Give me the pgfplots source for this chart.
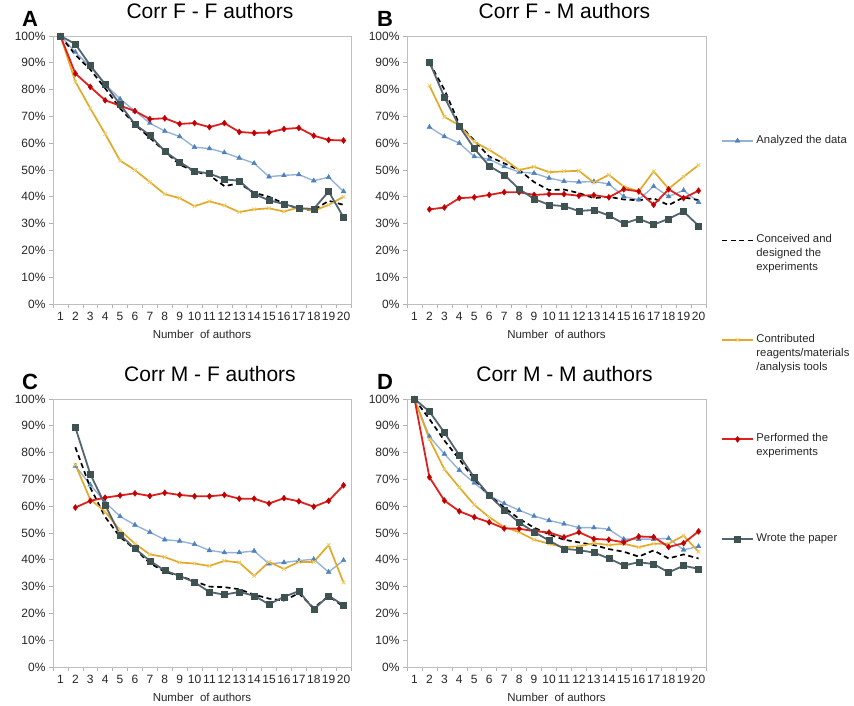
\documentclass[border=0pt]{standalone}
\usepackage{fontspec}
\setmainfont{Liberation Sans}
\usepackage{pgfplots}
\usepackage{pgfplotstable}
\pgfplotsset{compat=1.18}

\definecolor{anaLine}{RGB}{149,179,215}
\definecolor{anaMark}{RGB}{79,129,189}
\definecolor{conLine}{RGB}{226,170,40}
\definecolor{conMark}{RGB}{240,205,110}
\definecolor{perLine}{RGB}{222,32,32}
\definecolor{perMark}{RGB}{192,0,0}
\definecolor{wroLine}{RGB}{84,100,112}
\definecolor{wroMark}{RGB}{62,82,82}

% columns: x, analyzed, conceived, contributed, performed, wrote
\pgfplotstableread{
x ana conc cont perf wrote
1 100 100 100 100 100
2 94 93 83 86 97
3 88.5 87.5 73 81 89
4 82 80.5 63.5 76 82
5 76.5 73 53.5 74 74.5
6 72 67 50 72 67
7 67.5 62 45.5 69 63
8 64.5 57 41 69.3 57
9 62.5 52 39.5 67.2 53
10 58.5 49.5 36.5 67.5 49.5
11 58 48 38.3 66 48.7
12 56.5 44 36.8 67.5 46.5
13 54.5 45 34.3 64.2 46
14 52.5 41.5 35.3 63.8 41
15 47.5 40 35.7 64 38.7
16 48 37.5 34.5 65.3 37.3
17 48.3 35.5 36 65.7 35.7
18 46 35 34.8 62.8 35.5
19 47.3 38.5 37 61.2 42
20 42 37 40 61 32.3
}\tabA

\pgfplotstableread{
x ana conc cont perf wrote
2 66 90 81.5 35.3 90.3
3 62.5 80 69.8 36 77.2
4 60 67 66.7 39.5 66.3
5 55 61 60.5 39.8 58
6 54 55 57.5 40.7 51.5
7 51.3 52.5 54 41.7 48.2
8 49.2 50 50 41.7 42.9
9 48.8 45.5 51.2 40.7 39.2
10 47 42.5 49.2 41 37
11 45.8 42.7 49.5 41 36.5
12 45.5 41.4 49.7 40.4 34.7
13 45.7 39.5 45.3 40.6 35.1
14 44.8 40 48.2 39.8 33
15 40.1 39 43.8 42.8 30
16 38.9 38.7 42 42 31.8
17 43.9 39.4 49.5 37 29.6
18 40.1 36.9 43 42.8 31.8
19 42.4 39.8 47.5 39.5 34.5
20 38 38.8 51.8 42.3 29.2
}\tabB

\pgfplotstableread{
x ana conc cont perf wrote
2 75 82 75.5 59.5 89.4
3 68 67 62.5 62 72
4 61.5 56 58 63.2 60.5
5 56.2 48.5 51 64 49.3
6 53 44 46 64.8 44.2
7 50.3 38.8 42 63.8 39.6
8 47.5 35.5 41 65 36
9 47 34 39 64.2 34
10 45.8 32 38.6 63.7 31.6
11 43.5 30 37.7 63.7 28
12 42.7 29.8 39.6 64.2 27
13 42.7 29 39 62.8 28
14 43.3 27 34 62.8 26.6
15 38.5 25.5 39.2 61 23.4
16 39 24.8 36.6 63 26.2
17 39.7 27.5 39.2 61.8 28.3
18 40.2 22 39.2 59.8 21.5
19 35.4 26.5 45.5 62 26.6
20 39.8 22.5 31.5 67.8 23
}\tabC

\pgfplotstableread{
x ana conc cont perf wrote
1 100 100 100 100 100
2 86 92.5 85 70.8 95.3
3 79.5 84.5 73.8 62.1 87.5
4 73.4 77.5 67 58.1 79
5 68.7 70 60.5 55.9 70.7
6 64 64 55.9 54 64
7 61 59.5 52.2 51.7 58.6
8 58.5 55.3 50.3 51.6 53.9
9 56.3 52 47.5 50.7 50.4
10 54.7 49.5 46 50.2 47.2
11 53.4 47.5 44.7 48.4 44.1
12 52 46.5 45 50.3 43.6
13 52 45.5 46.2 47.8 42.7
14 51.4 44 45.5 47.5 40.5
15 47.7 43 46 46.5 37.9
16 47.7 41.2 44.7 48.7 39.1
17 47.7 43.5 46 48.5 38.4
18 48 40.5 46 44.8 35.3
19 43.7 42 49 46.2 37.8
20 45 40.5 43 50.6 36.6
}\tabD

\tikzset{letter/.style={font=\bfseries\fontsize{22}{24}\selectfont, anchor=base}}

\pgfplotsset{
  panel/.style={
    scale only axis, width=298pt, height=268pt,
    xmin=0.5, xmax=20.5, ymin=0, ymax=100,
    xtick={0.5,1.5,...,20.5}, xticklabels={},
    extra x ticks={1,2,...,20},
    extra x tick labels={1,2,3,4,5,6,7,8,9,10,11,12,13,14,15,16,17,18,19,20},
    extra x tick style={major tick length=0pt},
    xticklabel shift=5pt,
    ytick={0,10,...,100},
    yticklabel={\pgfmathprintnumber{\tick}\%},
    tick align=outside, tick pos=left,
    major tick length=4pt,
    axis line style={gray!50},
    tick style={gray!60, line width=0.6pt},
    tick label style={font=\fontsize{12}{14}\selectfont, text=black!85},
    xticklabel style={inner xsep=0pt},
    /pgf/number format/assume math mode=true,
    xlabel={Number\ \ of authors},
    xlabel style={font=\fontsize{11.5}{13}\selectfont, text=black!85, at={(0.5,0)}, anchor=base, yshift=-35pt},
    title style={font=\fontsize{21}{24}\selectfont, at={(0.5,1)}, anchor=base, yshift=11pt, xshift=8pt},
    clip=false,
  },
  analyzed/.style={color=anaLine, line width=1.4pt, mark=triangle*, mark size=2.8pt,
    mark options={fill=anaMark, draw=anaMark, solid, line width=0.4pt}},
  conceived/.style={color=black, line width=1.7pt, dash pattern=on 5pt off 3.5pt},
  contributed/.style={color=conLine, line width=1.7pt, mark=x, mark size=2.6pt,
    mark options={draw=conMark, line width=0.8pt, solid}},
  performed/.style={color=perLine, line width=1.8pt, mark=diamond*, mark size=3pt,
    mark options={fill=perMark, draw=perMark, solid, line width=0.4pt}},
  wrote/.style={color=wroLine, line width=1.8pt, mark=square*, mark size=3pt,
    mark options={fill=wroMark, draw=wroMark, solid, line width=0.4pt}},
}

\begin{document}
\begin{tikzpicture}
\path[use as bounding box] (0,0) rectangle (854pt,706pt);

% ---------------- A
\begin{axis}[panel, at={(53pt,402pt)}, anchor=south west, title={Corr F - F authors}]
\addplot[analyzed] table[x=x,y=ana]{\tabA};
\addplot[conceived] table[x=x,y=conc]{\tabA};
\addplot[contributed] table[x=x,y=cont]{\tabA};
\addplot[performed] table[x=x,y=perf]{\tabA};
\addplot[wrote] table[x=x,y=wrote]{\tabA};
\node[letter, xshift=-23pt, yshift=9pt] at (rel axis cs:0,1) {A};
\end{axis}

% ---------------- B
\begin{axis}[panel, width=299pt, at={(407pt,402pt)}, anchor=south west, title={Corr F - M authors},
  legend style={at={(1.050,0.6300)}, anchor=north west, draw=none, fill=none,
    inner sep=0pt, row sep=88.5pt, column sep=2.5pt,
    font=\fontsize{11.3}{14}\selectfont, text=black!85,
    nodes={inner sep=0pt, text height=8pt, text depth=3pt},
    cells={anchor=west}},
  legend image code/.code={\draw[mark repeat=2,mark phase=2,#1] plot coordinates {(0pt,0pt)(15.5pt,0pt)(31pt,0pt)};}]
\addplot[analyzed] table[x=x,y=ana]{\tabB};
\addlegendentry{\parbox[t]{100pt}{\raggedright Analyzed the data}}
\addplot[conceived] table[x=x,y=conc]{\tabB};
\addlegendentry{\parbox[t]{100pt}{\raggedright Conceived and\\designed the\\experiments}}
\addplot[contributed] table[x=x,y=cont]{\tabB};
\addlegendentry{\parbox[t]{100pt}{\raggedright Contributed\\reagents/materials\\/analysis tools}}
\addplot[performed] table[x=x,y=perf]{\tabB};
\addlegendentry{\parbox[t]{100pt}{\raggedright Performed the\\experiments}}
\addplot[wrote] table[x=x,y=wrote]{\tabB};
\addlegendentry{\parbox[t]{100pt}{\raggedright Wrote the paper}}
\node[letter, xshift=-22pt, yshift=9pt] at (rel axis cs:0,1) {B};
\end{axis}

% ---------------- C
\begin{axis}[panel, at={(53pt,39pt)}, anchor=south west, title={Corr M - F authors}]
\addplot[analyzed] table[x=x,y=ana]{\tabC};
\addplot[conceived] table[x=x,y=conc]{\tabC};
\addplot[contributed] table[x=x,y=cont]{\tabC};
\addplot[performed] table[x=x,y=perf]{\tabC};
\addplot[wrote] table[x=x,y=wrote]{\tabC};
\node[letter, xshift=-23pt, yshift=9pt] at (rel axis cs:0,1) {C};
\end{axis}

% ---------------- D
\begin{axis}[panel, width=299pt, at={(407pt,39pt)}, anchor=south west, title={Corr M - M authors}]
\addplot[analyzed] table[x=x,y=ana]{\tabD};
\addplot[conceived] table[x=x,y=conc]{\tabD};
\addplot[contributed] table[x=x,y=cont]{\tabD};
\addplot[performed] table[x=x,y=perf]{\tabD};
\addplot[wrote] table[x=x,y=wrote]{\tabD};
\node[letter, xshift=-22pt, yshift=9pt] at (rel axis cs:0,1) {D};
\end{axis}
\end{tikzpicture}
\end{document}
